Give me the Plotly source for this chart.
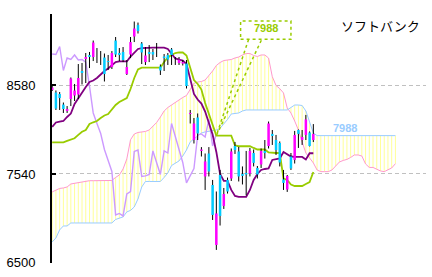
import plotly.graph_objects as go

# ---------------- data ----------------
bar_idx = list(range(-1, 70))

opens = [8522, 8492, 8475, 8351, 8276, 8416, 8457, 8469, 8744, 8884, 8931,
         8907, 8966, 8954, 8901, 8860, 8790, 9100, 8954, 8966, 8708,
         8936, 9147, 9281, 9065, 8848, 8966, 8966, 9030, 8796, 8913,
         8931, 8996, 8872, 8837, 8831, 8831, 8241, 7937, 8200, 7809,
         7511, 7779, 7411, 6710, 7528, 7166, 7470, 7487, 7867, 7803,
         7540, 7552, 7545, 7785, 7610, 7651, 7809, 7867, 8008, 7937,
         7902, 7476, 7359, 7744, 7704, 8054, 7937, 7996, 8025, 7937]
highs = [8568, 8516, 8498, 8375, 8334, 8668, 8592, 8825, 8837, 8954, 8966,
         9100, 9012, 8977, 8948, 8931, 8977, 9141, 9012, 9024, 8872,
         9141, 9322, 9310, 9082, 9024, 9047, 9001, 9071, 8820, 8942,
         8954, 9012, 8907, 8907, 8872, 8872, 8288, 8194, 8247, 7854,
         7779, 7854, 7470, 7335, 7587, 7376, 7498, 7838, 7914, 7856,
         7628, 7809, 7844, 7826, 7633, 7838, 7937, 8153, 8054, 7996,
         7920, 7587, 7528, 7785, 8043, 8060, 8054, 8230, 8037, 8123]
lows = [8510, 8288, 8288, 8253, 8253, 8334, 8393, 8416, 8586, 8603, 8778,
        8860, 8837, 8814, 8621, 8755, 8767, 8907, 8860, 8848, 8697,
        8895, 9082, 9182, 8825, 8814, 8848, 8872, 8907, 8697, 8744,
        8814, 8814, 8814, 8814, 8808, 8539, 8130, 7896, 7937, 7744,
        7353, 7511, 7002, 6652, 6937, 7131, 7311, 7458, 7774, 7452,
        7417, 7290, 7511, 7628, 7487, 7610, 7720, 7838, 7879, 7762,
        7628, 7353, 7330, 7587, 7662, 7844, 7879, 7937, 7862, 7913]
closes = [8551, 8305, 8428, 8299, 8299, 8656, 8516, 8662, 8720, 8907, 8907,
          9076, 8966, 8954, 8708, 8848, 8954, 8936, 8931, 8872, 8790,
          9082, 9240, 9211, 8960, 8925, 8942, 8936, 9030, 8750, 8895,
          8878, 8931, 8872, 8878, 8848, 8568, 8253, 8130, 8013, 7826,
          7686, 7569, 7061, 7078, 7049, 7306, 7335, 7803, 7820, 7511,
          7517, 7534, 7809, 7669, 7534, 7809, 7785, 8130, 7984, 7820,
          7674, 7435, 7516, 7604, 7996, 8008, 7972, 8177, 7867, 8008]

tenkan = [8089, 8142, 8153, 8159, 8206, 8246, 8358, 8428, 8486, 8557, 8615,
          8633, 8662, 8709, 8744, 8773, 8808, 8849, 8855, 8855, 8855,
          8911, 8954, 9001, 9012, 9016, 9016, 9016, 9016, 9016, 9016,
          9001, 8942, 8890, 8878, 8866, 8825, 8638, 8475, 8410, 8363,
          8270, 8148, 8002, 7797, 7540, 7458, 7458, 7353, 7283, 7271,
          7271, 7271, 7353, 7470, 7540, 7587, 7598, 7604, 7704, 7715,
          7721, 7797, 7774, 7744, 7739, 7739, 7739, 7709, 7782, 7782]
kijun = [7910, 7910, 7910, 7910, 7926, 7943, 7957, 7996, 8034, 8054, 8124,
         8144, 8159, 8194, 8224, 8241, 8300, 8346, 8381, 8405, 8428,
         8533, 8662, 8761, 8782, 8782, 8782, 8782, 8782, 8782, 8849,
         8901, 8931, 8954, 8962, 8960, 8925, 8779, 8638, 8592, 8527,
         8370, 8241, 8113, 7988, 7988, 7988, 7988, 7988, 7873, 7864,
         7864, 7864, 7864, 7844, 7826, 7826, 7826, 7791, 7785, 7785,
         7785, 7487, 7470, 7417, 7399, 7399, 7399, 7423, 7446, 7563]

cloud_idx = list(range(-1, 92))
senkou_a = [7330, 7353, 7371, 7376, 7388, 7423, 7431, 7446, 7446, 7461, 7461,
            7461, 7461, 7461, 7461, 7461, 7464, 7499, 7528, 7598, 7715,
            7940, 8007, 8025, 8031, 8037, 8054, 8101, 8142, 8206, 8276,
            8317, 8346, 8381, 8405, 8434, 8457, 8533, 8600, 8615, 8621,
            8638, 8685, 8744, 8808, 8843, 8866, 8872, 8878, 8896, 8907,
            8931, 8948, 8948, 8925, 8913, 8931, 8931, 8895, 8677, 8574,
            8537, 8487, 8311, 8253, 8159, 8054, 7914, 7785, 7727, 7669,
            7587, 7567, 7567, 7567, 7587, 7634, 7680, 7698, 7710, 7733,
            7762, 7762, 7750, 7657, 7616, 7616, 7598, 7575, 7567, 7587, 7610, 7660]
senkou_b = [6745, 6792, 6886, 6932, 6932, 6967, 6967, 6967, 6967, 6967, 6967,
            6967, 6967, 6967, 6967, 6967, 6967, 7008, 7020, 7038, 7096,
            7114, 7154, 7248, 7388, 7452, 7452, 7452, 7452, 7452, 7499,
            7552, 7639, 7665, 7692, 7750, 7820, 7914, 7949, 7984, 8019,
            8031, 8037, 8046, 8054, 8074, 8124, 8177, 8241, 8249, 8253,
            8276, 8288, 8288, 8288, 8288, 8288, 8288, 8288, 8288, 8288,
            8288, 8288, 8288, 8317, 8346, 8346, 8340, 8276, 8140, 8019,
            7988, 7988, 7988, 7988, 7988, 7988, 7988, 7988, 7988, 7988,
            7988, 7988, 7988, 7988, 7988, 7988, 7988, 7988, 7988, 7988, 7988, 7988]

CHIKOU_LAG = 26
y_ticks = [6500, 7540, 8580]
y_ticktext = ["6500", "7540", "8580"]
title_text = "ソフトバンク"
callout_idx = 43
callout_value = 7988

# ---------------- styles ----------------
C_FILL = "#ffff99"
C_A = "#ff99cc"
C_B = "#99ccff"
C_CHIKOU = "#cc99ff"
C_TENKAN = "#800080"
C_KIJUN = "#99cc00"
C_UP = "#ff00ff"
C_DN = "#00ccff"


def segments(xs, y0s, y1s):
    X, Y = [], []
    for x, a, b in zip(xs, y0s, y1s):
        X += [x, x, None]
        Y += [a, b, None]
    return X, Y


fig = go.Figure()

# Kumo fill (vertical hatch lines)
fx, fy = segments(cloud_idx, senkou_a, senkou_b)
fig.add_trace(go.Scatter(x=fx, y=fy, mode="lines", line=dict(color=C_FILL, width=1),
                         hoverinfo="skip"))
fig.add_trace(go.Scatter(x=cloud_idx, y=senkou_a, mode="lines", line=dict(color=C_A, width=1)))
fig.add_trace(go.Scatter(x=cloud_idx, y=senkou_b, mode="lines", line=dict(color=C_B, width=1)))

# Chikou span
fig.add_trace(go.Scatter(x=bar_idx[:-CHIKOU_LAG], y=closes[CHIKOU_LAG:], mode="lines",
                         line=dict(color=C_CHIKOU, width=1.4)))

# Kijun / Tenkan
fig.add_trace(go.Scatter(x=bar_idx, y=kijun, mode="lines", line=dict(color=C_KIJUN, width=1.8)))
fig.add_trace(go.Scatter(x=bar_idx, y=tenkan, mode="lines", line=dict(color=C_TENKAN, width=1.8)))

# Candles: black wicks, coloured bodies
wx, wy = segments(bar_idx, lows, highs)
fig.add_trace(go.Scatter(x=wx, y=wy, mode="lines", line=dict(color="black", width=1)))
up = [(x, o, c) for x, o, c in zip(bar_idx, opens, closes) if c > o]
dn = [(x, o, c) for x, o, c in zip(bar_idx, opens, closes) if c < o]
ux, uy = segments([u[0] for u in up], [u[1] for u in up], [u[2] for u in up])
dx, dy = segments([d[0] for d in dn], [d[1] for d in dn], [d[2] for d in dn])
fig.add_trace(go.Scatter(x=ux, y=uy, mode="lines", line=dict(color=C_UP, width=2.5)))
fig.add_trace(go.Scatter(x=dx, y=dy, mode="lines", line=dict(color=C_DN, width=2.5)))

# Callout (balloon pointing to kijun value)
box_x0, box_x1 = 49.5, 63.0
box_y0, box_y1 = 9114, 9328
fig.add_shape(type="rect", x0=box_x0, x1=box_x1, y0=box_y0, y1=box_y1,
              line=dict(color=C_KIJUN, width=1.5, dash="dot"), layer="above")
fig.add_shape(type="path",
              path=f"M 51.66,{box_y0} L {callout_idx},{callout_value} L 55.18,{box_y0}",
              line=dict(color=C_KIJUN, width=1.5, dash="dot"), layer="above")
fig.add_annotation(x=(box_x0 + box_x1) / 2, y=9242, text=f"<b>{callout_value}</b>",
                   showarrow=False, font=dict(family="Liberation Sans", size=11, color=C_KIJUN))

# label of last senkou B value
fig.add_annotation(x=77.6, y=senkou_b[-1], yanchor="bottom", yshift=0,
                   text=f"<b>{senkou_b[-1]}</b>", showarrow=False,
                   font=dict(family="Liberation Sans", size=11, color=C_B))

# title
fig.add_annotation(xref="paper", yref="paper", x=0.879, y=0.954, xanchor="center",
                   yanchor="middle", text=title_text, showarrow=False,
                   font=dict(family="Noto Sans CJK JP", size=13, color="black"))

fig.update_layout(
    width=432, height=277,
    margin=dict(l=45, r=6, t=14, b=14),
    paper_bgcolor="white", plot_bgcolor="white",
    showlegend=False,
    xaxis=dict(range=[-1.05, 99.2], visible=False, showgrid=False, zeroline=False),
    yaxis=dict(range=[6499, 9410], tickvals=y_ticks, ticktext=y_ticktext,
               showline=True, linecolor="black", linewidth=2,
               ticks="inside", ticklen=4, tickwidth=1.5, tickcolor="black",
               showgrid=True, gridcolor="#c0c0c0", gridwidth=1, griddash="4px,3px",
               zeroline=False, ticklabelstandoff=12,
               tickfont=dict(family="Liberation Sans Narrow, Liberation Sans", size=13,
                             color="black")),
)

fig.write_html("out.html")
